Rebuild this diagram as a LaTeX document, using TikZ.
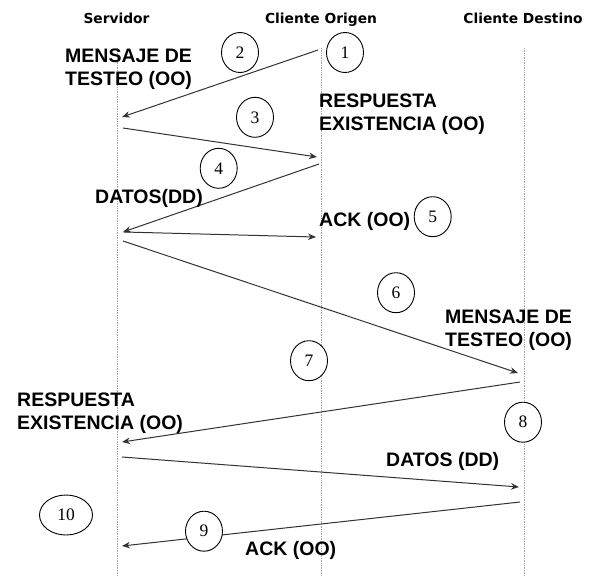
\documentclass[tikz,border=0pt]{standalone}
\usepackage{fontspec}
\setmainfont{Liberation Serif}
\newfontfamily\hdrfont{DejaVu Sans}
\newfontfamily\lblfont{Liberation Sans}
\usetikzlibrary{arrows.meta,shapes.geometric}

\begin{document}
\begin{tikzpicture}[x=1pt,y=-1pt,
  hdr/.style={font=\hdrfont\bfseries\fontsize{13.8}{16}\selectfont, anchor=base, inner sep=0pt},
  % multi-line labels are placed by the baseline of their last line
  lbl/.style={font=\lblfont\bfseries\fontsize{19.5}{23}\selectfont, anchor=base west, align=left, inner sep=0pt},
  num/.style={ellipse, draw=black, fill=white, line width=0.9pt, inner sep=0pt,
              minimum width=37pt, minimum height=40pt, font=\fontsize{17.5}{17.5}\selectfont},
  life/.style={draw=black!35, line width=1pt, dash pattern=on 1pt off 0.7pt},
  msg/.style={draw=black!80, line width=1pt, -{Stealth[length=8pt,width=6.5pt]}}]

\useasboundingbox (0,0) rectangle (596,576);
\fill[white] (0,0) rectangle (596,576);

% column headers
\node[hdr] (hS) at (116.5,23) {Servidor};
\node[hdr] (hO) at (321,23) {Cliente Origen};
\node[hdr] (hD) at (523,23) {Cliente Destino};

% lifelines
\coordinate (sT) at (117,48);  \coordinate (sB) at (117,576);
\coordinate (oT) at (321,48);  \coordinate (oB) at (321,576);
\coordinate (dT) at (524,48);  \coordinate (dB) at (524,576);
\draw[life] (sT) -- (sB);
\draw[life] (oT) -- (oB);
\draw[life] (dT) -- (dB);

% message end points
\coordinate (o2) at (318,50);  \coordinate (s2) at (122,117);
\coordinate (s3) at (123,128); \coordinate (o3) at (317,157);
\coordinate (o4) at (319,164); \coordinate (s4) at (123,232);
\coordinate (s5) at (124,232); \coordinate (o5) at (316,237);
\coordinate (s6) at (123,241); \coordinate (d6) at (518,373);
\coordinate (d7) at (520,382); \coordinate (s7) at (122,442);
\coordinate (s8) at (122,457); \coordinate (d8) at (519,487);
\coordinate (d9) at (520,502); \coordinate (s9) at (122,546);

% messages
\draw[msg] (o2) -- (s2);
\draw[msg] (s3) -- (o3);
\draw[msg] (o4) -- (s4);
\draw[msg] (s5) -- (o5);
\draw[msg] (s6) -- (d6);
\draw[msg] (d7) -- (s7);
\draw[msg] (s8) -- (d8);
\draw[msg] (d9) -- (s9);

% step numbers
\node[num] (n1) at (345,52.5) {1};
\node[num] (n2) at (240,52.5) {2};
\node[num] (n3) at (255,117.3) {3};
\node[num] (n4) at (218.7,168.3) {4};
\node[num] (n5) at (432.7,216.7) {5};
\node[num] (n6) at (396,292.7) {6};
\node[num] (n7) at (309,360.7) {7};
\node[num] (n8) at (523,422.2) {8};
\node[num] (n9) at (204,531.2) {9};
\node[num, minimum width=53pt] (n10) at (66,515) {10};

% message labels
\node[lbl] (l2) at (65,85) {MENSAJE DE\\TESTEO (OO)};
\node[lbl] (l3) at (319,130) {RESPUESTA\\EXISTENCIA (OO)};
\node[lbl] (l4) at (95,203) {DATOS(DD)};
\node[lbl] (l5) at (319,226) {ACK (OO)};
\node[lbl] (l6) at (445,346) {MENSAJE DE\\TESTEO (OO)};
\node[lbl] (l7) at (17,429) {RESPUESTA\\EXISTENCIA (OO)};
\node[lbl] (l8) at (386,466) {DATOS (DD)};
\node[lbl] (l9) at (245,555) {ACK (OO)};
\end{tikzpicture}
\end{document}
